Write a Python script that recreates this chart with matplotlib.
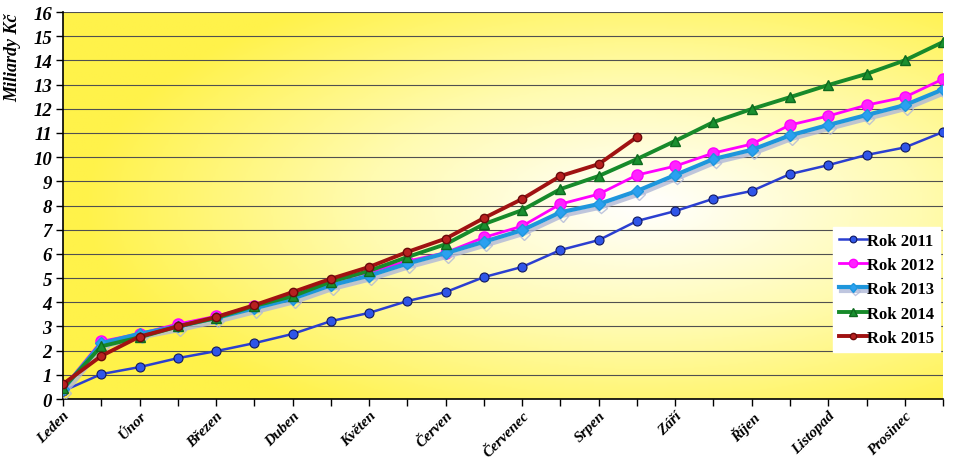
import numpy as np
import matplotlib
matplotlib.use("Agg")
import matplotlib.pyplot as plt
import matplotlib.patheffects as pe
from matplotlib.colors import LinearSegmentedColormap

# hodnoty (miliardy Kč), 24 bodů = půlměsíce
mesice = ['Leden', 'Únor', 'Březen', 'Duben', 'Květen', 'Červen',
          'Červenec', 'Srpen', 'Září', 'Říjen', 'Listopad', 'Prosinec']

rok_2011 = [0.33, 1.03, 1.32, 1.69, 1.98, 2.31, 2.69, 3.22, 3.56, 4.05, 4.42, 5.04,
            5.46, 6.16, 6.57, 7.36, 7.77, 8.28, 8.6, 9.3, 9.67, 10.09, 10.4, 11.04]
rok_2012 = [0.45, 2.38, 2.7, 3.1, 3.42, 3.85, 4.3, 4.85, 5.25, 5.7, 6.05, 6.68,
            7.15, 8.06, 8.47, 9.26, 9.63, 10.17, 10.54, 11.33, 11.7, 12.15, 12.48, 13.23]
rok_2013 = [0.4, 2.3, 2.7, 3.0, 3.35, 3.75, 4.15, 4.7, 5.1, 5.6, 6.03, 6.5,
            6.98, 7.72, 8.06, 8.6, 9.26, 9.92, 10.3, 10.9, 11.33, 11.74, 12.15, 12.8]
rok_2014 = [0.45, 2.18, 2.55, 3.0, 3.35, 3.85, 4.25, 4.85, 5.3, 5.87, 6.4, 7.23,
            7.81, 8.68, 9.22, 9.92, 10.67, 11.45, 11.99, 12.48, 12.98, 13.44, 14.0, 14.76]
rok_2015 = [0.62, 1.78, 2.58, 3.0, 3.39, 3.88, 4.42, 4.97, 5.46, 6.08, 6.63, 7.48,
            8.27, 9.22, 9.71, 10.83]

plt.rcParams['font.family'] = ['Liberation Serif', 'DejaVu Serif']

fig = plt.figure(figsize=(9.61, 4.6), dpi=100)
ax = fig.add_axes([0.0656, 0.1304, 0.9157, 0.8413])

# pozadí - žlutý přechod do bílé
gx, gy = np.meshgrid(np.linspace(0, 1, 300), np.linspace(0, 1, 200))
d = np.sqrt(((gx - 0.66) / 0.75) ** 2 + ((gy - 0.5) / 0.75) ** 2)
cmap = LinearSegmentedColormap.from_list('bg', ['#FFFFFF', '#FFFBB0', '#FFF24A'])
ax.imshow(np.clip(d / 0.85, 0, 1), cmap=cmap, extent=[0, 23, 0, 16],
          aspect='auto', origin='lower', zorder=0, vmin=0, vmax=1)

x = np.arange(24)
ax.plot(x, rok_2011, color='#2B3FD0', lw=1.8, marker='o', ms=6.5,
        mfc='#2F55E8', mec='#101860', mew=0.8, label='Rok 2011', zorder=3)
ax.plot(x, rok_2012, color='#FF00FF', lw=2.0, marker='o', ms=8,
        mfc='#FF22FF', mec='#FF00FF', label='Rok 2012', zorder=3)
ax.plot(x, rok_2013, color='#1E96DC', lw=3.0, marker='D', ms=6,
        mfc='#2AA0F0', mec='#1E96DC', label='Rok 2013', zorder=3,
        path_effects=[pe.SimpleLineShadow(offset=(1.5, -2.5), shadow_color='#B0B8D8', alpha=0.8),
                      pe.Normal()])
ax.plot(x, rok_2014, color='#178A2A', lw=2.8, marker='^', ms=7,
        mfc='#1A9030', mec='#0E6A1E', label='Rok 2014', zorder=3)
ax.plot(x[:len(rok_2015)], rok_2015, color='#A01212', lw=2.8, marker='o', ms=6,
        mfc='#B82020', mec='#6A0A0A', label='Rok 2015', zorder=4)

ax.set_xlim(0, 23)
ax.set_ylim(0, 16)
ax.set_yticks(range(0, 17))
ax.set_xticks(x, minor=False)
ax.set_xticklabels([mesice[i // 2] if i % 2 == 0 else '' for i in x],
                   rotation=45, ha='right', rotation_mode='anchor',
                   fontsize=11, fontweight='bold', fontstyle='italic')
for t in ax.get_yticklabels():
    t.set_fontsize(13.5)
    t.set_fontweight('bold')
    t.set_fontstyle('italic')
ax.tick_params(axis='x', length=5, width=1, pad=2)
ax.tick_params(axis='y', length=5, width=1, pad=3)

ax.grid(axis='y', color='#505050', lw=0.8, zorder=1)
ax.set_axisbelow(True)
ax.spines['top'].set_visible(False)
ax.spines['right'].set_visible(False)
ax.spines['left'].set_linewidth(1.2)
ax.spines['bottom'].set_linewidth(1.2)

ax.set_ylabel('Miliardy Kč', fontsize=13, fontweight='bold', fontstyle='italic')
ax.yaxis.set_label_coords(-0.047, 0.885)

leg = ax.legend(loc='upper left', bbox_to_anchor=(0.875, 0.445),
                prop={'weight': 'bold', 'size': 12}, frameon=True, fancybox=False,
                handlelength=1.7, handletextpad=0.0, borderpad=0.35, labelspacing=0.5,
                borderaxespad=0, markerscale=0.75)
leg.get_frame().set_facecolor('white')
leg.get_frame().set_edgecolor('white')
leg.get_frame().set_alpha(1)

fig.savefig('out.png', dpi=100)
